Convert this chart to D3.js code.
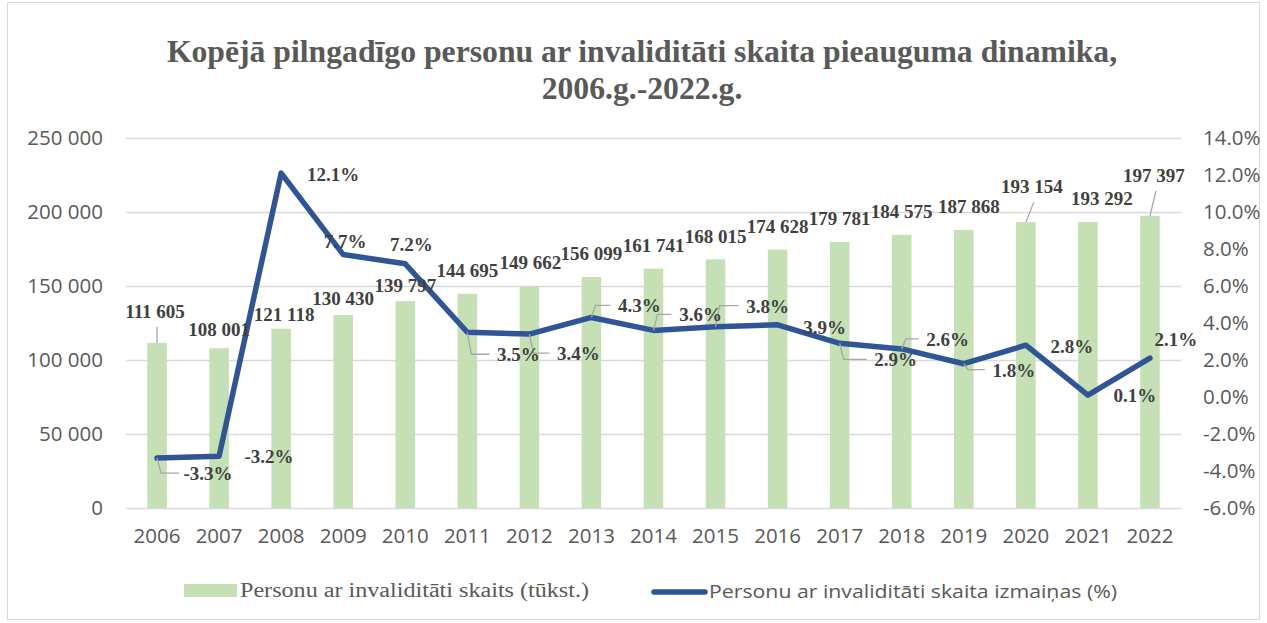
<!DOCTYPE html>
<html>
<head>
<meta charset="utf-8">
<script src="https://cdn.jsdelivr.net/npm/d3@7"></script>
<style>
  body { margin: 0; background: #fff; }
  svg { display: block; }
</style>
</head>
<body>
<div id="chart"></div>
<script>
// data
var years = ["2006","2007","2008","2009","2010","2011","2012","2013","2014","2015","2016","2017","2018","2019","2020","2021","2022"];
var persons = [111605,108001,121118,130430,139797,144695,149662,156099,161741,168015,174628,179781,184575,187868,193154,193292,197397];
var change = [-3.3,-3.2,12.1,7.7,7.2,3.5,3.4,4.3,3.6,3.8,3.9,2.9,2.6,1.8,2.8,0.1,2.1];
var leftTicks = [0,50000,100000,150000,200000,250000];
var rightTicks = [-6,-4,-2,0,2,4,6,8,10,12,14];

// label placement (moved by hand in the original)
var barLabelDx = [-2,0,3,0,0,0,1,0,0,0,0,0,0,5,6,14,4];
var barLabelDy = [-25,-12,-8,-10,-9,-17,-18,-17,-17,-16,-17,-17,-17,-17,-29,-17,-34];
var barLeader = [true,false,false,false,false,false,false,false,false,false,false,false,false,false,true,false,true];
var pctLabelDx = [51,50,52,2,6,51,49,48,47,52,47,56,46,50,46,47,26];
var pctLabelDy = [22,7,8,-7,-13,29,26,-5,-9,-14,9,23,-3,13,8,7,-12];
var pctLeader = [true,false,false,false,false,true,true,true,true,true,false,true,true,true,false,false,false];

var W = 1267, H = 623;
var pLeft = 126, pRight = 1181, pTop = 138, pBottom = 508;

var svg = d3.select("#chart").append("svg")
    .attr("width", W)
    .attr("height", H)

// chart border
svg.append("rect")
    .attr("x", 7.5).attr("y", 2.5)
    .attr("width", 1252).attr("height", 617)
    .attr("fill", "none")
    .attr("stroke", "#d9d9d9")

var loc = d3.formatLocale({decimal: ".", thousands: " ", grouping: [3], currency: ["", ""]});
var fmt = loc.format(",");

var x = d3.scaleBand()
    .domain(years)
    .range([pLeft, pRight])
    .paddingInner(0.685)
    .paddingOuter(0.3425)

var yL = d3.scaleLinear().domain([0, 250000]).range([pBottom, pTop]);
var yR = d3.scaleLinear().domain([-6, 14]).range([pBottom, pTop]);

// title
var title = svg.append("text")
    .attr("text-anchor", "middle")
    .style("font-family", "'Liberation Serif', 'Times New Roman', serif")
    .style("font-weight", "bold")
    .style("font-size", "31.7px")
    .attr("fill", "#595959")
title.append("tspan").attr("x", 642).attr("y", 62)
    .text("Kopējā pilngadīgo personu ar invaliditāti skaita pieauguma dinamika,");
title.append("tspan").attr("x", 642).attr("y", 99)
    .text("2006.g.-2022.g.");

// gridlines
svg.append("g")
  .selectAll("line")
  .data(leftTicks)
  .enter()
  .append("line")
    .attr("x1", pLeft).attr("x2", pRight)
    .attr("y1", function(d){ return Math.round(yL(d)) + 0.5 })
    .attr("y2", function(d){ return Math.round(yL(d)) + 0.5 })
    .attr("stroke", "#d9d9d9")
    .attr("stroke-width", 1.5)

// axes
var axL = svg.append("g")
    .attr("transform", "translate(" + pLeft + ",0)")
    .call(d3.axisLeft(yL).tickValues(leftTicks).tickSize(0).tickPadding(23).tickFormat(fmt))
var axR = svg.append("g")
    .attr("transform", "translate(" + pRight + ",0)")
    .call(d3.axisRight(yR).tickValues(rightTicks).tickSize(0).tickPadding(22)
      .tickFormat(function(d){ return d.toFixed(1) + "%" }))
var axX = svg.append("g")
    .attr("transform", "translate(0," + pBottom + ")")
    .call(d3.axisBottom(x).tickSize(0).tickPadding(20))

;[axL, axR, axX].forEach(function(a){
  a.select(".domain").remove();
  a.selectAll("text")
    .style("font-family", "'Open Sans', sans-serif")
    .style("font-size", "20.5px")
    .attr("fill", "#595959")
});

// bars
svg.append("g")
  .selectAll("rect")
  .data(persons)
  .enter()
  .append("rect")
    .attr("x", function(d, i){ return x(years[i]) })
    .attr("width", x.bandwidth())
    .attr("y", function(d){ return yL(d) })
    .attr("height", function(d){ return pBottom - yL(d) })
    .attr("fill", "#c5e0b4")

// bar label leaders
var barG = svg.append("g");
persons.forEach(function(d, i){
  if (!barLeader[i]) return;
  var cx = x(years[i]) + x.bandwidth() / 2;
  barG.append("line")
    .attr("x1", cx).attr("y1", yL(d))
    .attr("x2", cx + barLabelDx[i] + 2).attr("y2", yL(d) + barLabelDy[i] + 9)
    .attr("stroke", "#a6a6a6")
    .attr("stroke-width", 1.3)
});

// line series
var line = d3.line()
    .x(function(d, i){ return x(years[i]) + x.bandwidth() / 2 })
    .y(function(d){ return yR(d) })

svg.append("path")
    .datum(change)
    .attr("d", line)
    .attr("fill", "none")
    .attr("stroke", "#2f5597")
    .attr("stroke-width", 5.5)
    .attr("stroke-linejoin", "round")
    .attr("stroke-linecap", "round")

// percent label leaders
var pctG = svg.append("g");
change.forEach(function(d, i){
  if (!pctLeader[i]) return;
  var px = x(years[i]) + x.bandwidth() / 2, py = yR(d);
  var by = py + pctLabelDy[i] - 7;
  var lx = px + pctLabelDx[i] - 29;
  pctG.append("polyline")
    .attr("points", [[px, py], [px + 4, by], [lx, by]].join(" "))
    .attr("fill", "none")
    .attr("stroke", "#a6a6a6")
    .attr("stroke-width", 1.3)
});

var labelFont = "'Liberation Serif', 'Times New Roman', serif";

// bar labels
svg.append("g")
  .selectAll("text")
  .data(persons)
  .enter()
  .append("text")
    .attr("x", function(d, i){ return x(years[i]) + x.bandwidth() / 2 + barLabelDx[i] })
    .attr("y", function(d, i){ return yL(d) + barLabelDy[i] })
    .attr("text-anchor", "middle")
    .style("font-family", labelFont)
    .style("font-weight", "bold")
    .style("font-size", "19px")
    .attr("fill", "#404040")
    .text(function(d){ return fmt(d) })

// percent labels
svg.append("g")
  .selectAll("text")
  .data(change)
  .enter()
  .append("text")
    .attr("x", function(d, i){ return x(years[i]) + x.bandwidth() / 2 + pctLabelDx[i] })
    .attr("y", function(d, i){ return yR(d) + pctLabelDy[i] })
    .attr("text-anchor", "middle")
    .style("font-family", labelFont)
    .style("font-weight", "bold")
    .style("font-size", "19px")
    .attr("fill", "#404040")
    .text(function(d){ return d.toFixed(1) + "%" })

// legend
var lg = svg.append("g");
lg.append("rect")
    .attr("x", 184).attr("y", 584)
    .attr("width", 53).attr("height", 13)
    .attr("fill", "#c5e0b4")
lg.append("text")
    .attr("x", 240).attr("y", 597)
    .attr("textLength", 349).attr("lengthAdjust", "spacingAndGlyphs")
    .style("font-family", labelFont)
    .style("font-size", "20px")
    .attr("fill", "#595959")
    .text("Personu ar invaliditāti skaits (tūkst.)")
lg.append("line")
    .attr("x1", 654).attr("x2", 705)
    .attr("y1", 592).attr("y2", 592)
    .attr("stroke", "#2f5597")
    .attr("stroke-width", 5.5)
    .attr("stroke-linecap", "round")
lg.append("text")
    .attr("x", 709).attr("y", 598)
    .attr("textLength", 408).attr("lengthAdjust", "spacingAndGlyphs")
    .style("font-family", "'Open Sans', sans-serif")
    .style("font-size", "18.5px")
    .attr("fill", "#595959")
    .text("Personu ar invaliditāti skaita izmaiņas (%)")
</script>
</body>
</html>
